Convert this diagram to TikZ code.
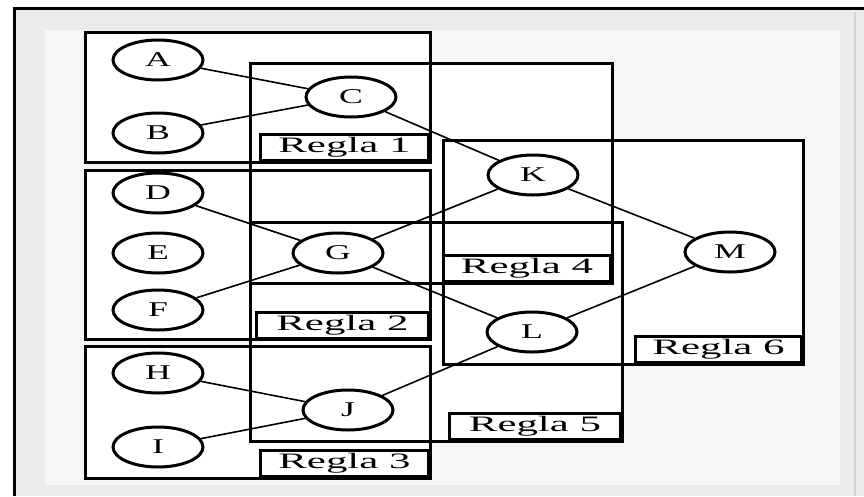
\documentclass[tikz,border=0pt]{standalone}
\usepackage{fontspec}
\setmainfont{Liberation Serif}
\usetikzlibrary{shapes.geometric}
\begin{document}
\begin{tikzpicture}[x=1pt,y=-1pt,
  boxfill/.style={fill=white},
  boxline/.style={line width=3pt},
  nd/.style={ellipse, draw, line width=3pt, fill=white, minimum width=90pt, minimum height=40pt, inner sep=0pt, font=\fontsize{21}{21}\selectfont},
  lbl/.style={draw, line width=3pt, fill=white, minimum height=26pt, inner sep=0pt, anchor=south east, font=\fontsize{22}{22}\selectfont},
  edge/.style={line width=1.6pt}]
\useasboundingbox (0,0) rectangle (864,496);
\fill[white] (0,0) rectangle (864,496);
\fill[gray!16] (14,8) rectangle (864,496);
\fill[gray!7] (45,30) rectangle (840,485);
\draw[line width=3pt] (14,496) -- (14,8) -- (864,8);
\draw[gray!35, line width=1.5pt] (855,12) -- (855,496);
% box fills
\fill[boxfill] (85,32) rectangle (430,162);
\fill[boxfill] (85,170) rectangle (430,339);
\fill[boxfill] (85,346) rectangle (430,478);
\fill[boxfill] (250,63) rectangle (612,283);
\fill[boxfill] (250,222) rectangle (622,441);
\fill[boxfill] (443,140) rectangle (803,364);
% box outlines
\draw[boxline] (85,32) rectangle (430,162);
\draw[boxline] (85,170) rectangle (430,339);
\draw[boxline] (85,346) rectangle (430,478);
\draw[boxline] (250,63) rectangle (612,283);
\draw[boxline] (250,222) rectangle (622,441);
\draw[boxline] (443,140) rectangle (803,364);
% labels
\node[lbl, minimum width=168pt] (r1) at (430,162) {\scalebox{1.95}[1]{Regla 1}};
\node[lbl, minimum width=172pt] (r2) at (430,340) {\scalebox{1.95}[1]{Regla 2}};
\node[lbl, minimum width=168pt] (r3) at (430,478) {\scalebox{1.95}[1]{Regla 3}};
\node[lbl, minimum width=167pt] (r4) at (612,283) {\scalebox{1.95}[1]{Regla 4}};
\node[lbl, minimum width=171pt] (r5) at (622,441) {\scalebox{1.95}[1]{Regla 5}};
\node[lbl, minimum width=166pt] (r6) at (803,364) {\scalebox{1.95}[1]{Regla 6}};
% nodes
\node[nd] (A) at (158,60) {\scalebox{1.7}[1]{A}};
\node[nd] (B) at (158,133) {\scalebox{1.7}[1]{B}};
\node[nd] (C) at (351,97) {\scalebox{1.7}[1]{C}};
\node[nd] (D) at (158,193) {\scalebox{1.7}[1]{D}};
\node[nd] (E) at (158,253) {\scalebox{1.7}[1]{E}};
\node[nd] (F) at (158,310) {\scalebox{1.7}[1]{F}};
\node[nd] (G) at (338,253) {\scalebox{1.7}[1]{G}};
\node[nd] (H) at (158,373) {\scalebox{1.7}[1]{H}};
\node[nd] (I) at (158,447) {\scalebox{1.7}[1]{I}};
\node[nd] (J) at (348,410) {\scalebox{1.7}[1]{J}};
\node[nd] (K) at (533,175) {\scalebox{1.7}[1]{K}};
\node[nd] (L) at (532,332) {\scalebox{1.7}[1]{L}};
\node[nd] (M) at (730,252) {\scalebox{1.7}[1]{M}};
% edges
\draw[edge] (A) -- (C);
\draw[edge] (B) -- (C);
\draw[edge] (C) -- (K);
\draw[edge] (D) -- (G);
\draw[edge] (F) -- (G);
\draw[edge] (G) -- (K);
\draw[edge] (G) -- (L);
\draw[edge] (H) -- (J);
\draw[edge] (I) -- (J);
\draw[edge] (J) -- (L);
\draw[edge] (K) -- (M);
\draw[edge] (L) -- (M);
\end{tikzpicture}
\end{document}
